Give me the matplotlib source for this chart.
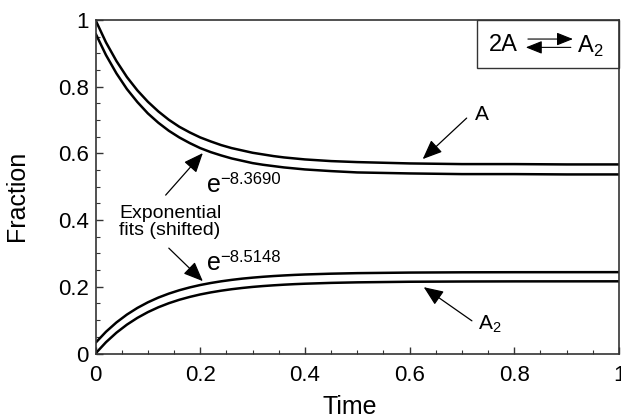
import numpy as np
import matplotlib
matplotlib.use('Agg')
import matplotlib.pyplot as plt
from matplotlib.patches import Rectangle
from matplotlib.ticker import MultipleLocator, FixedLocator, FixedFormatter

plt.rcParams['font.family'] = ['Liberation Sans', 'DejaVu Sans']

# values
t = [0.0, 0.02, 0.04, 0.06, 0.08, 0.10, 0.12, 0.14, 0.16, 0.18, 0.20,
     0.22, 0.24, 0.26, 0.28, 0.30, 0.32, 0.34, 0.36, 0.38, 0.40,
     0.45, 0.50, 0.60, 0.70, 0.80, 0.90, 1.0]
frac_A = [1.000, 0.933, 0.877, 0.829, 0.789, 0.755, 0.726, 0.701, 0.680, 0.663, 0.648,
          0.636, 0.625, 0.616, 0.609, 0.602, 0.597, 0.592, 0.588, 0.585, 0.582,
          0.577, 0.574, 0.570, 0.568, 0.568, 0.567, 0.567]
fit_A = [0.960, 0.895, 0.840, 0.793, 0.754, 0.720, 0.692, 0.668, 0.648, 0.631, 0.616,
         0.604, 0.594, 0.585, 0.578, 0.571, 0.566, 0.562, 0.558, 0.555, 0.552,
         0.547, 0.543, 0.540, 0.538, 0.538, 0.537, 0.537]
frac_A2 = [0.000, 0.0339, 0.0625, 0.0866, 0.1069, 0.1241, 0.1386, 0.1508, 0.1611, 0.1697, 0.1771,
           0.1832, 0.1884, 0.1928, 0.1965, 0.1997, 0.2023, 0.2045, 0.2064, 0.2080, 0.2093,
           0.2118, 0.2134, 0.2152, 0.2159, 0.2163, 0.2164, 0.2165]
fit_A2 = [0.032, 0.0652, 0.0932, 0.1168, 0.1367, 0.1535, 0.1677, 0.1796, 0.1897, 0.1982, 0.2054,
          0.2114, 0.2165, 0.2208, 0.2245, 0.2275, 0.2301, 0.2323, 0.2341, 0.2357, 0.2370,
          0.2394, 0.2410, 0.2427, 0.2435, 0.2438, 0.2439, 0.2440]

yticks = [0, 0.2, 0.4, 0.6, 0.8, 1.0]
ytick_labels = ['0', '0.2', '0.4', '0.6', '0.8', '1']
xticks = [0, 0.2, 0.4, 0.6, 0.8, 1.0]
xtick_labels = ['0', '0.2', '0.4', '0.6', '0.8', '1']

fig = plt.figure(figsize=(6.21, 4.2), dpi=100)
ax = fig.add_axes([0.1538, 0.1583, 0.843, 0.794])

for y in (frac_A, fit_A, frac_A2, fit_A2):
    ax.plot(t, y, color='black', lw=1.8, solid_capstyle='butt')

ax.set_xlim(0, 1)
ax.set_ylim(0, 1)
ax.xaxis.set_major_locator(FixedLocator(xticks))
ax.xaxis.set_major_formatter(FixedFormatter(xtick_labels))
ax.yaxis.set_major_locator(FixedLocator(yticks))
ax.yaxis.set_major_formatter(FixedFormatter(ytick_labels))
ax.xaxis.set_minor_locator(MultipleLocator(0.05))
ax.yaxis.set_minor_locator(MultipleLocator(0.05))
ax.tick_params(which='both', direction='in', top=False, right=False, color='#333333')
ax.tick_params(which='major', length=5, width=1, labelsize=16)
ax.tick_params(which='minor', length=3, width=0.8)
ax.tick_params(axis='x', pad=8)
ax.tick_params(axis='y', pad=5)
for s in ax.spines.values():
    s.set_linewidth(1.2)
    s.set_color('#333333')

ax.set_xlabel('Time', fontsize=18)
ax.set_ylabel('Fraction', fontsize=18)
ax.xaxis.set_label_coords(0.486, -0.125)
ax.yaxis.set_label_coords(-0.128, 0.473)

arrow = dict(arrowstyle='-|>,head_length=1.2,head_width=0.5', color='black',
             lw=0.9, shrinkA=0, shrinkB=0)

# curve labels
ax.annotate('', xy=(0.625, 0.583), xytext=(0.709, 0.706), arrowprops=arrow)
ax.text(0.725, 0.717, 'A', fontsize=15, va='center', ha='left')
ax.annotate('', xy=(0.627, 0.199), xytext=(0.719, 0.098), arrowprops=arrow)
ax.text(0.73, 0.087, 'A$_{\\mathregular{2}}$', fontsize=15, va='center', ha='left')

# fit labels
ax.annotate('', xy=(0.205, 0.601), xytext=(0.134, 0.475), arrowprops=arrow)
ax.text(0.213, 0.484, 'e', fontsize=18, va='baseline', ha='left')
ax.text(0.238, 0.545, '\u22128.3690', fontsize=12, va='top', ha='left')
ax.annotate('', xy=(0.205, 0.217), xytext=(0.140, 0.316), arrowprops=arrow)
ax.text(0.213, 0.250, 'e', fontsize=18, va='baseline', ha='left')
ax.text(0.238, 0.311, '\u22128.5148', fontsize=12, va='top', ha='left')
ax.text(0.045, 0.395, 'Exponential\nfits (shifted)', fontsize=14, va='center',
        ha='left', multialignment='left', linespacing=1.0)

# reaction box
ax.add_patch(Rectangle((0.729, 0.855), 0.271, 0.145, transform=ax.transAxes,
                       fill=False, lw=1.0, edgecolor='#333333', clip_on=False))
ax.text(0.752, 0.925, '2A', fontsize=17, va='center', ha='left', transform=ax.transAxes)
ax.text(0.92, 0.922, 'A$_{\\mathregular{2}}$', fontsize=17, va='center', ha='left',
        transform=ax.transAxes)
small_arrow = dict(arrowstyle='-|>,head_length=1.0,head_width=0.4', color='black',
                   lw=0.8, shrinkA=0, shrinkB=0)
ax.annotate('', xy=(0.912, 0.943), xytext=(0.826, 0.943), xycoords='axes fraction',
            arrowprops=small_arrow)
ax.annotate('', xy=(0.822, 0.918), xytext=(0.908, 0.918), xycoords='axes fraction',
            arrowprops=small_arrow)

fig.savefig('out.png', dpi=100)
